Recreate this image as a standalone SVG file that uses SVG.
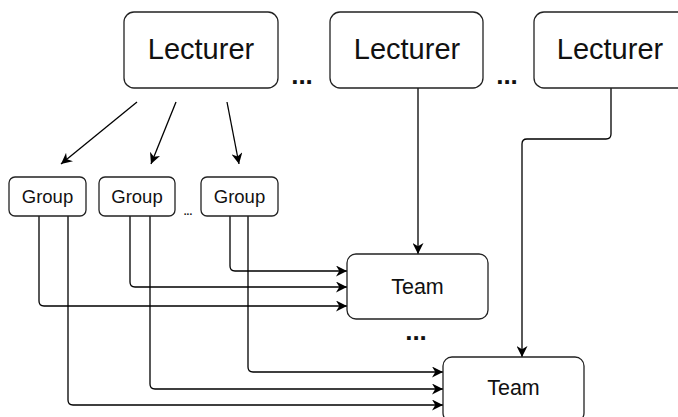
<svg xmlns="http://www.w3.org/2000/svg" width="678" height="417" viewBox="0 0 678 417">
<defs>
<marker id="arr" viewBox="0 0 10 10" refX="10" refY="5" markerWidth="11" markerHeight="11" markerUnits="userSpaceOnUse" orient="auto">
<path d="M0,0 L10,5 L0,10 L3,5 Z" fill="#000"/>
</marker>
</defs>
<style>
.box{fill:#fff;stroke:#222;stroke-width:1.3}
.lbl{font-family:"Liberation Sans",Arial,sans-serif;fill:#111;text-anchor:middle}
.lec{font-size:29px}
.grp{font-size:18.5px}
.team{font-size:21.5px}
.c{fill:none;stroke:#000;stroke-width:1.3;marker-end:url(#arr)}
.dots{font-family:"Liberation Sans",Arial,sans-serif;fill:#111;text-anchor:middle;font-weight:bold}
</style>
<rect width="678" height="417" fill="#fff"/>
<g id="connectors">
<path class="c" d="M137,102 L61,164"/>
<path class="c" d="M176,102 L151,164"/>
<path class="c" d="M227,102 L239,164"/>
<path class="c" d="M418,88 V254"/>
<path class="c" d="M611,88 V134 Q611,139 606,139 H527 Q522,139 522,144 V357"/>
<path class="c" d="M39,216 V301 Q39,306 44,306 H347"/>
<path class="c" d="M68,216 V400 Q68,405 73,405 H443"/>
<path class="c" d="M130,216 V282 Q130,287 135,287 H347"/>
<path class="c" d="M150,216 V384 Q150,389 155,389 H443"/>
<path class="c" d="M230,216 V266 Q230,271 235,271 H347"/>
<path class="c" d="M248,216 V367 Q248,372 253,372 H443"/>
</g>
<g id="lecturer1">
<rect class="box" x="124" y="12" width="154" height="76" rx="10"/>
<text class="lbl lec" x="201" y="59">Lecturer</text>
</g>
<g id="lecturer2">
<rect class="box" x="330" y="12" width="153" height="76" rx="10"/>
<text class="lbl lec" x="407" y="59">Lecturer</text>
</g>
<g id="lecturer3">
<rect class="box" x="534" y="12" width="154" height="76" rx="10"/>
<text class="lbl lec" x="610" y="59">Lecturer</text>
</g>
<g id="dots1"><text class="dots" x="302" y="84" font-size="26">...</text></g>
<g id="dots2"><text class="dots" x="507" y="84" font-size="26">...</text></g>
<g id="group1">
<rect class="box" x="9" y="177" width="77" height="39" rx="6"/>
<text class="lbl grp" x="47.5" y="203">Group</text>
</g>
<g id="group2">
<rect class="box" x="99" y="177" width="76" height="39" rx="6"/>
<text class="lbl grp" x="137" y="203">Group</text>
</g>
<g id="group3">
<rect class="box" x="201" y="177" width="77" height="39" rx="6"/>
<text class="lbl grp" x="239.5" y="203">Group</text>
</g>
<g id="dots3"><text class="dots" x="188" y="215" font-size="10" font-weight="normal">...</text></g>
<g id="team1">
<rect class="box" x="347" y="254" width="141" height="65" rx="9"/>
<text class="lbl team" x="417.5" y="294">Team</text>
</g>
<g id="dots4"><text class="dots" x="416" y="340" font-size="26">...</text></g>
<g id="team2">
<rect class="box" x="443" y="357" width="141" height="65" rx="9"/>
<text class="lbl team" x="513.5" y="395">Team</text>
</g>
</svg>
